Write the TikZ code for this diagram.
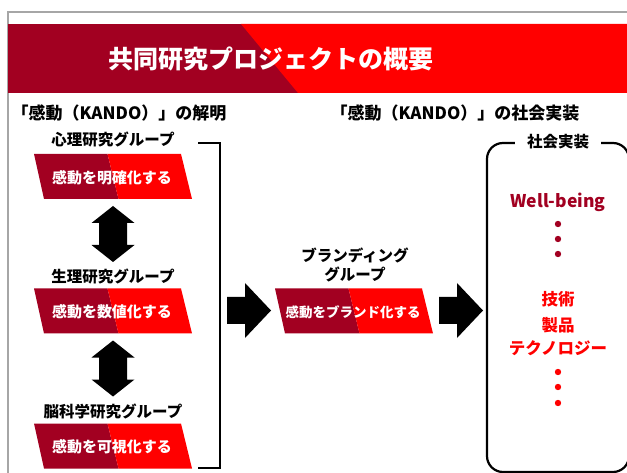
\documentclass[tikz,border=0pt]{standalone}
\usepackage{fontspec}
\setmainfont{Noto Sans CJK JP}
\usetikzlibrary{calc}
\definecolor{dred}{RGB}{162,0,33}
\definecolor{bred}{RGB}{255,0,0}
\definecolor{framegray}{RGB}{166,166,166}
\tikzset{
  titletext/.style={text=white, inner sep=0, font=\fontsize{25}{25}\selectfont\bfseries},
  headtext/.style={inner sep=0, font=\fontsize{17}{17}\selectfont\bfseries},
  grouptext/.style={inner sep=0, font=\fontsize{15.5}{15.5}\selectfont\bfseries},
  paratext/.style={text=white, inner sep=0},
  itemtext/.style={inner sep=0, font=\fontsize{16.5}{16.5}\selectfont\bfseries},
  dotmark/.style={circle, inner sep=0, minimum size=6.4},
}
\newcommand\paragram[5]{% name, x, y, font size, text
  \begin{scope}[shift={(#2,#3)}]
    \fill[dred] (-79,-22.5) -- (-5.5,-22.5) -- (5.5,22.5) -- (-69,22.5) -- cycle;
    \fill[bred] (-5.5,-22.5) -- (68,-22.5) -- (79,22.5) -- (5.5,22.5) -- cycle;
    \node[paratext, font=\fontsize{#4}{#4}\selectfont\bfseries] (#1) at (-1,1) {#5};
  \end{scope}}
\newcommand\vdarrow[3]{% name, x, y
  \begin{scope}[shift={(#2,#3)}]
    \fill (0,-28) -- (21.5,-11) -- (14,-11) -- (14,11) -- (21.5,11) -- (0,28)
      -- (-21.5,11) -- (-14,11) -- (-14,-11) -- (-21.5,-11) -- cycle;
    \coordinate (#1) at (0,0);
  \end{scope}}
\newcommand\rtarrow[3]{% name, x-left, y-centre
  \begin{scope}[shift={(#2,#3)}]
    \fill (0,-13.5) -- (18,-13.5) -- (18,-27.5) -- (44,0) -- (18,27.5)
      -- (18,13.5) -- (0,13.5) -- cycle;
    \coordinate (#1) at (22,0);
  \end{scope}}
\begin{document}
\begin{tikzpicture}[x=1pt, y=-1pt]
\useasboundingbox (0,0) rectangle (627,473);
\fill[white] (0,0) rectangle (627,473);
% frame
\draw[framegray, line width=1.2] (8,473) -- (8,12) -- (627,12);
% title banner
\fill[dred] (8,24) rectangle (627,93);
\fill[bred] (241,24) -- (627,24) -- (627,93) -- (298,93) -- cycle;
\node[titletext] (title) at (271,58.5) {共同研究プロジェクトの概要};
% headings
\node[headtext] (h1) at (119,113.5) {「感動（KANDO）」の解明};
\node[headtext] (h2) at (455,113.5) {「感動（KANDO）」の社会実装};
% left column
\node[grouptext] (g1) at (113,140) {心理研究グループ};
\paragram{p1}{113}{176.5}{15}{感動を明確化する}
\vdarrow{a1}{113}{234}
\node[grouptext] (g2) at (113,276.5) {生理研究グループ};
\paragram{p2}{113}{311}{15}{感動を数値化する}
\vdarrow{a2}{113}{368.5}
\node[grouptext] (g3) at (113,411.5) {脳科学研究グループ};
\paragram{p3}{113}{446}{15}{感動を可視化する}
% bracket
\coordinate (b1) at (198,143);
\coordinate (b2) at (220,143);
\coordinate (b3) at (220,468);
\coordinate (b4) at (198,468);
\draw[line width=2.4] (b1) -- (b2) -- (b3) -- (b4);
% middle
\rtarrow{r1}{227}{310.5}
\node[grouptext] (br1) at (355,255) {ブランディング};
\node[grouptext] (br2) at (355,274.5) {グループ};
\paragram{pb}{354}{311}{13.5}{感動をブランド化する}
\rtarrow{r2}{439}{310.5}
% right box
\node[draw, line width=2.2, rounded corners=16, minimum width=142, minimum height=329, inner sep=0] (impl) at (558,307.5) {};
\node[grouptext, fill=white, inner xsep=12, inner ysep=2] (impllabel) at (impl.north) {社会実装};
\node[inner sep=0, text=dred, font=\fontsize{17.5}{17.5}\selectfont\bfseries] (wb) at (558,202) {Well-being};
\node[dotmark, fill=dred] (d1) at (558,224) {};
\node[dotmark, fill=dred] (d2) at (558,239) {};
\node[dotmark, fill=dred] (d3) at (558,254) {};
\node[itemtext, text=bred] (t1) at (558,299) {技術};
\node[itemtext, text=bred] (t2) at (558,325) {製品};
\node[itemtext, text=bred] (t3) at (558,348.5) {テクノロジー};
\node[dotmark, fill=bred] (e1) at (558,372) {};
\node[dotmark, fill=bred] (e2) at (558,387) {};
\node[dotmark, fill=bred] (e3) at (558,403) {};
\end{tikzpicture}
\end{document}
